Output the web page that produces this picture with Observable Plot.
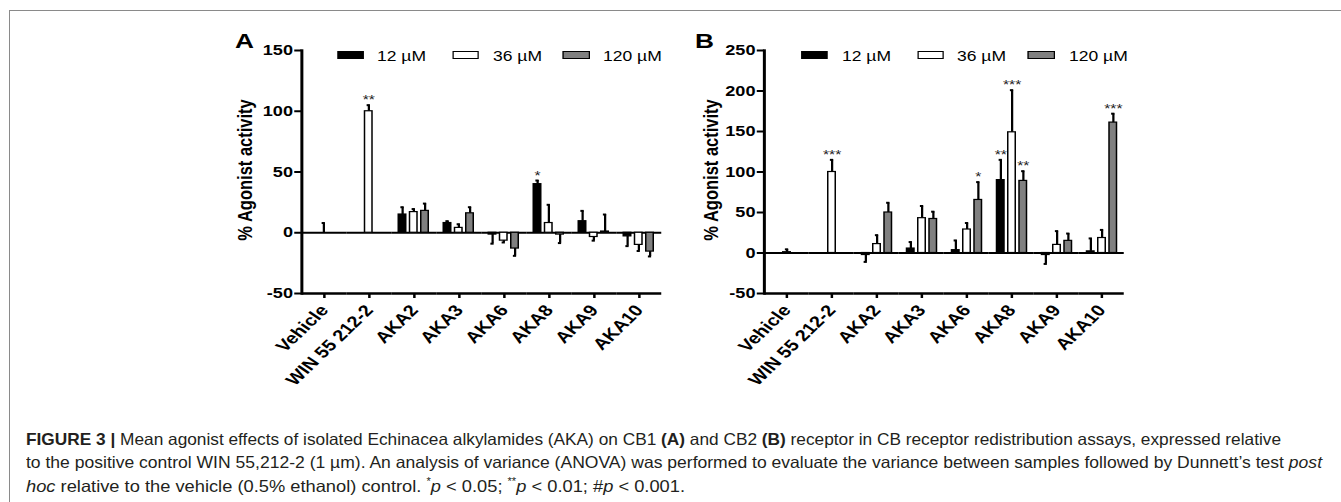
<!DOCTYPE html>
<html>
<head>
<meta charset="utf-8">
<script src="https://cdn.jsdelivr.net/npm/d3@7"></script>
<script src="https://cdn.jsdelivr.net/npm/@observablehq/plot@0.6"></script>
<style>
  html, body { margin: 0; padding: 0; background: #fff; }
  body { width: 1341px; height: 502px; position: relative; overflow: hidden; font-family: "Liberation Sans", Arial, sans-serif; }
  .frame { position: absolute; left: 9px; top: 10px; width: 2000px; height: 1000px; border-left: 1.5px solid #8a8a8a; border-top: 1.5px solid #8a8a8a; }
  .panel { position: absolute; top: 0; height: 410px; width: 400px; transform-origin: 0 0; transform: scaleX(1.25); }
  .panel svg { position: absolute; left: 0; top: 0; overflow: visible; }
  .letter { position: absolute; font-weight: bold; font-size: 21px; line-height: 1; color: #000; }
  .ylab { position: absolute; font-weight: bold; font-size: 16.5px; line-height: 1; white-space: nowrap; transform: translate(-50%, -50%) rotate(-90deg); color: #000; }
  .sw { position: absolute; height: 6px; border: 1.2px solid #000; }
  .lt { position: absolute; font-size: 14px; line-height: 1; white-space: nowrap; color: #000; }
  .cap { position: absolute; left: 26px; font-size: 16.5px; line-height: 1; white-space: nowrap; color: #231f20; transform-origin: 0 0; }
</style>
</head>
<body>
<div class="frame"></div>
<div class="panel" id="pA"></div>
<div class="panel" id="pB"></div>
<div class="cap" id="c1"><b>FIGURE 3 |</b> Mean agonist effects of isolated Echinacea alkylamides (AKA) on CB1 <b>(A)</b> and CB2 <b>(B)</b> receptor in CB receptor redistribution assays, expressed relative</div>
<div class="cap" id="c2">to the positive control WIN 55,212-2 (1 µm). An analysis of variance (ANOVA) was performed to evaluate the variance between samples followed by Dunnett’s test <i>post</i></div>
<div class="cap" id="c3"><i>hoc</i> relative to the vehicle (0.5% ethanol) control. <sup style="font-size:10px">*</sup><i>p</i> &lt; 0.05; <sup style="font-size:10px">**</sup><i>p</i> &lt; 0.01; #<i>p</i> &lt; 0.001.</div>
<script>
// ---------- data ----------
const categories = ["Vehicle", "WIN 55 212-2", "AKA2", "AKA3", "AKA6", "AKA8", "AKA9", "AKA10"];
const doses = ["12 µM", "36 µM", "120 µM"];
const doseColors = ["#000000", "#ffffff", "#808080"];

// Panel A (CB1)
const cb1Mean12  = [null, null, 15, 8, -1.5, 40, 9.5, -3];
const cb1Err12   = [null, null, 6, 1.5, 7.5, 3, 8.5, 8];
const cb1Mean36  = [0, 100, 17, 4, -6.5, 8, -3.5, -10];
const cb1Err36   = [8, 5, 2.5, 3, 1.5, 15, 3, 5];
const cb1Mean120 = [null, null, 18, 16, -13, -1.5, 1, -15.5];
const cb1Err120  = [null, null, 6, 5, 6, 7, 14, 4];
const cb1Sig12   = ["", "", "", "", "", "*", "", ""];
const cb1Sig36   = ["", "**", "", "", "", "", "", ""];
const cb1Sig120  = ["", "", "", "", "", "", "", ""];
const cb1Ticks = [-50, 0, 50, 100, 150];

// Panel B (CB2)
const cb2Mean12  = [null, null, -2.5, 5.5, 3.5, 90, -2.5, 2];
const cb2Err12   = [null, null, 8.5, 8, 12, 25, 11, 16];
const cb2Mean36  = [1, 100, 11, 43, 29, 149, 10, 18.5];
const cb2Err36   = [3.5, 15, 11, 15, 8, 52, 17, 10];
const cb2Mean120 = [null, null, 50, 42, 65.5, 89, 15, 161];
const cb2Err120  = [null, null, 12, 9, 22, 12, 9, 11];
const cb2Sig12   = ["", "", "", "", "", "**", "", ""];
const cb2Sig36   = ["", "***", "", "", "", "***", "", ""];
const cb2Sig120  = ["", "", "", "", "*", "**", "", "***"];
const cb2Ticks = [-50, 0, 50, 100, 150, 200, 250];

const yLabel = "% Agonist activity";

// ---------- build tables ----------
function table(means, errs, sigs) {
  const out = [];
  doses.forEach((dose, k) => {
    categories.forEach((cat, i) => {
      const v = means[k][i];
      if (v == null) return;
      const e = errs[k][i];
      out.push({cat, dose, value: v, err: e, end: v + (v < 0 ? -e : e), sig: sigs[k][i]});
    });
  });
  return out;
}
const rowsA = table([cb1Mean12, cb1Mean36, cb1Mean120], [cb1Err12, cb1Err36, cb1Err120], [cb1Sig12, cb1Sig36, cb1Sig120]);
const rowsB = table([cb2Mean12, cb2Mean36, cb2Mean120], [cb2Err12, cb2Err36, cb2Err120], [cb2Sig12, cb2Sig36, cb2Sig120]);

const S = 1.25; // horizontal stretch of the figure panels

function chart(rows, ticks, width, mL, mR) {
  return Plot.plot({
    width, height: 410,
    marginLeft: mL, marginRight: mR, marginTop: 50, marginBottom: 117,
    style: {fontFamily: "'Liberation Sans', Arial, sans-serif", color: "#000", background: "transparent", overflow: "visible"},
    fx: {domain: categories, padding: 0, label: null},
    x: {domain: doses, paddingInner: 0.28, paddingOuter: 0.47, axis: null},
    y: {domain: [ticks[0], ticks[ticks.length - 1]], label: null},
    color: {domain: doses, range: doseColors},
    marks: [
      Plot.ruleY([0], {stroke: "#000", strokeWidth: 1.8}),
      Plot.barY(rows, {fx: "cat", x: "dose", y: "value", fill: "dose", stroke: "#000", strokeWidth: 1.2}),
      Plot.ruleX(rows, {fx: "cat", x: "dose", y1: "value", y2: "end", stroke: "#000", strokeWidth: 1.8}),
      Plot.tickY(rows, {fx: "cat", x: "dose", y: "end", stroke: "#000", strokeWidth: 2, insetLeft: 1.7, insetRight: 1.7}),
      Plot.text(rows.filter(d => d.sig), {fx: "cat", x: "dose", y: "end", text: "sig", lineAnchor: "bottom", dy: -1, fontSize: 12.5, fill: "#222"}),
      Plot.ruleY([ticks[0]], {stroke: "#000", strokeWidth: 2.4}),
      Plot.frame({anchor: "left", facetAnchor: "left", stroke: "#000", strokeWidth: 2.4}),
      Plot.axisY({ticks, tickFormat: d => String(d), tickSize: 5.6, tickPadding: 1.5, strokeWidth: 2, fontSize: 14.5, fontWeight: "bold", label: null}),
      Plot.axisFx({anchor: "bottom", tickRotate: -50, tickSize: 5, tickPadding: 9, strokeWidth: 2, fontSize: 16, fontWeight: "bold", label: null})
    ]
  });
}

function panel(id, left, rows, ticks, svgRight, axisX, plotRight, letter, letterX, labX, legendSw, legendTx) {
  const el = document.getElementById(id);
  el.style.left = left + "px";
  const inner = x => (x - left) / S;
  const width = inner(svgRight);
  const svg = chart(rows, ticks, width, inner(axisX), width - inner(plotRight));
  el.appendChild(svg);
  const L = document.createElement("div");
  L.className = "letter"; L.textContent = letter;
  L.style.left = inner(letterX) + "px"; L.style.top = "30px";
  el.appendChild(L);
  const Y = document.createElement("div");
  Y.className = "ylab"; Y.textContent = yLabel;
  Y.style.left = inner(labX) + "px"; Y.style.top = "170px";
  el.appendChild(Y);
  doses.forEach((d, k) => {
    const sw = document.createElement("div");
    sw.className = "sw";
    sw.style.left = inner(legendSw[k]) + "px";
    sw.style.top = "51px";
    sw.style.width = (27 / S - 2.4) + "px";
    sw.style.background = doseColors[k];
    el.appendChild(sw);
    const t = document.createElement("div");
    t.className = "lt"; t.textContent = d;
    t.style.left = inner(legendTx[k]) + "px"; t.style.top = "49px";
    el.appendChild(t);
  });
}

panel("pA", 200, rowsA, cb1Ticks, 680, 298, 664, "A", 235, 245, [337, 452, 563], [377, 493, 603]);
panel("pB", 660, rowsB, cb2Ticks, 1140, 761, 1127.7, "B", 695, 711, [801, 917, 1028], [842, 957, 1069]);

// caption lines fitted to the reference widths
[["c1", 430.5, 1255], ["c2", 453.5, 1296], ["c3", 476.5, 659]].forEach(([id, top, w]) => {
  const el = document.getElementById(id);
  el.style.top = top + "px";
  const nat = el.getBoundingClientRect().width;
  el.style.transform = `scaleX(${w / nat})`;
});
</script>
</body>
</html>
